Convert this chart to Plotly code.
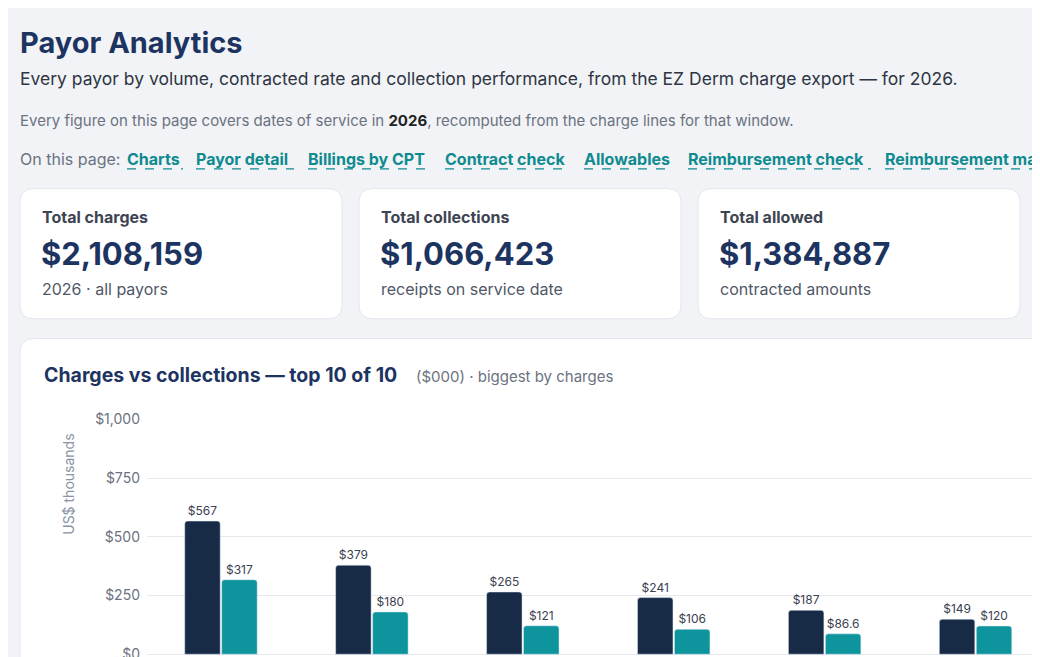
import plotly.graph_objects as go

W, H = 1040, 657
OX, OY = 8, 14  # page offset of the plot div
NAVY = '#1d3461'
TEAL = '#0f8a8f'
DARK_BAR = '#172a46'

payors = ['Medicare', 'BCBS', 'Aetna', 'UnitedHealthcare', 'Cigna', 'Humana',
          'Medicaid', 'Tricare', 'Self pay', 'Other']
charges = [567, 379, 265, 241, 187, 149, 118, 96, 64, 42]
collections = [317, 180, 121, 106, 86.6, 120, 61, 48, 40, 19]

cards = [('Total charges', '$2,108,159', '2026 · all payors'),
         ('Total collections', '$1,066,423', 'receipts on service date'),
         ('Total allowed', '$1,384,887', 'contracted amounts')]
nav = [('Charts', 127, 183), ('Payor detail', 196, 294), ('Billings by CPT', 308, 431),
       ('Contract check', 445, 570), ('Allowables', 584, 674),
       ('Reimbursement check', 688, 871), ('Reimbursement ma', 885, 1040)]


def px(x):
    return (x - OX) / W


def py(y):
    return 1 - (y - OY) / H


def rrect(x0, y0, x1, y1, r=14):
    # rounded rectangle path in paper coords
    rx, ry = r / W, r / H
    a, b, c, d = px(x0), py(y1), px(x1), py(y0)
    return (f'M{a+rx},{b} L{c-rx},{b} Q{c},{b} {c},{b+ry} L{c},{d-ry} Q{c},{d} {c-rx},{d} '
            f'L{a+rx},{d} Q{a},{d} {a},{d-ry} L{a},{b+ry} Q{a},{b} {a+rx},{b} Z')


fig = go.Figure()
fig.add_trace(go.Bar(x=list(range(len(payors))), y=charges, name='Charges',
                     marker=dict(color=DARK_BAR, cornerradius=3),
                     text=[f'${v:g}' for v in charges], textposition='outside',
                     textfont=dict(size=12, color='#3a4150'), cliponaxis=False))
fig.add_trace(go.Bar(x=list(range(len(payors))), y=collections, name='Collections',
                     marker=dict(color='#0e949c', cornerradius=3),
                     text=[f'${v:g}' for v in collections], textposition='outside',
                     textfont=dict(size=12, color='#3a4150'), cliponaxis=False))

shapes = []
for i, _ in enumerate(cards):
    x0 = 20 + i * 339
    shapes.append(dict(type='path', path=rrect(x0, 188, x0 + 322, 320), xref='paper', yref='paper',
                       fillcolor='white', line=dict(color='#e3e6eb', width=1), layer='below'))
shapes.append(dict(type='path', path=rrect(1037, 188, 1100, 320), xref='paper', yref='paper',
                   fillcolor='white', line=dict(color='#e3e6eb', width=1), layer='below'))
shapes.append(dict(type='path', path=rrect(20, 340, 1100, 720), xref='paper', yref='paper',
                   fillcolor='white', line=dict(color='#e3e6eb', width=1), layer='below'))
for _, a, b in nav:
    shapes.append(dict(type='line', x0=px(a), x1=px(b), y0=py(168), y1=py(168), xref='paper', yref='paper',
                       line=dict(color=TEAL, width=1.2, dash='dash')))

ann = []


def txt(x, y, s, size, color, bold=False):
    ann.append(dict(x=px(x), y=py(y), xref='paper', yref='paper', text=f'<b>{s}</b>' if bold else s,
                    showarrow=False, xanchor='left', yanchor='middle',
                    font=dict(size=size, color=color)))


txt(18, 40, 'Payor Analytics', 29, NAVY, True)
txt(18, 76, 'Every payor by volume, contracted rate and collection performance, from the EZ Derm charge export — for 2026.', 17.5, '#2f3542')
txt(18, 119, 'Every figure on this page covers dates of service in <b style="color:#222">2026</b>, recomputed from the charge lines for that window.', 15, '#6b7280')
txt(18, 158, 'On this page:', 16, '#6b7280')
for s, a, b in nav:
    txt(a - 2, 158, s, 16, TEAL, True)
for i, (t, v, sub) in enumerate(cards):
    x0 = 20 + i * 339
    txt(x0 + 20, 217, t, 16, '#3d4452', True)
    txt(x0 + 19, 254, v, 31, NAVY, True)
    txt(x0 + 20, 290, sub, 16, '#505766')
txt(42, 377, 'Charges vs collections — top 10 of 10', 19.5, NAVY, True)
txt(414, 378, '($000) · biggest by charges', 15, '#6b7280')
ann.append(dict(x=px(58), y=py(541), xref='paper', yref='paper', text='US$ thousands', textangle=-90,
                showarrow=False, font=dict(size=14, color='#8a94a3')))

fig.update_layout(
    width=W, height=H, margin=dict(l=0, r=0, t=0, b=0),
    paper_bgcolor='#f1f3f7', plot_bgcolor='rgba(0,0,0,0)',
    font=dict(family='Inter, Roboto, sans-serif'),
    showlegend=False, barmode='group', bargap=0.51, bargroupgap=0.04,
    shapes=shapes, annotations=ann,
    xaxis=dict(domain=[px(147), 1], range=[-0.49, 5.48], showticklabels=False,
               showgrid=False, zeroline=False),
    yaxis=dict(domain=[0, py(422)], range=[-46, 1000], tickvals=[0, 250, 500, 750, 1000],
               ticktext=['$0', '$250', '$500', '$750', '$1,000'], tickfont=dict(size=14, color='#6b7280'),
               gridcolor='#e6e9ee', zeroline=False, ticks='', ticklabelstandoff=6),
)

fig.write_html('out.html')
